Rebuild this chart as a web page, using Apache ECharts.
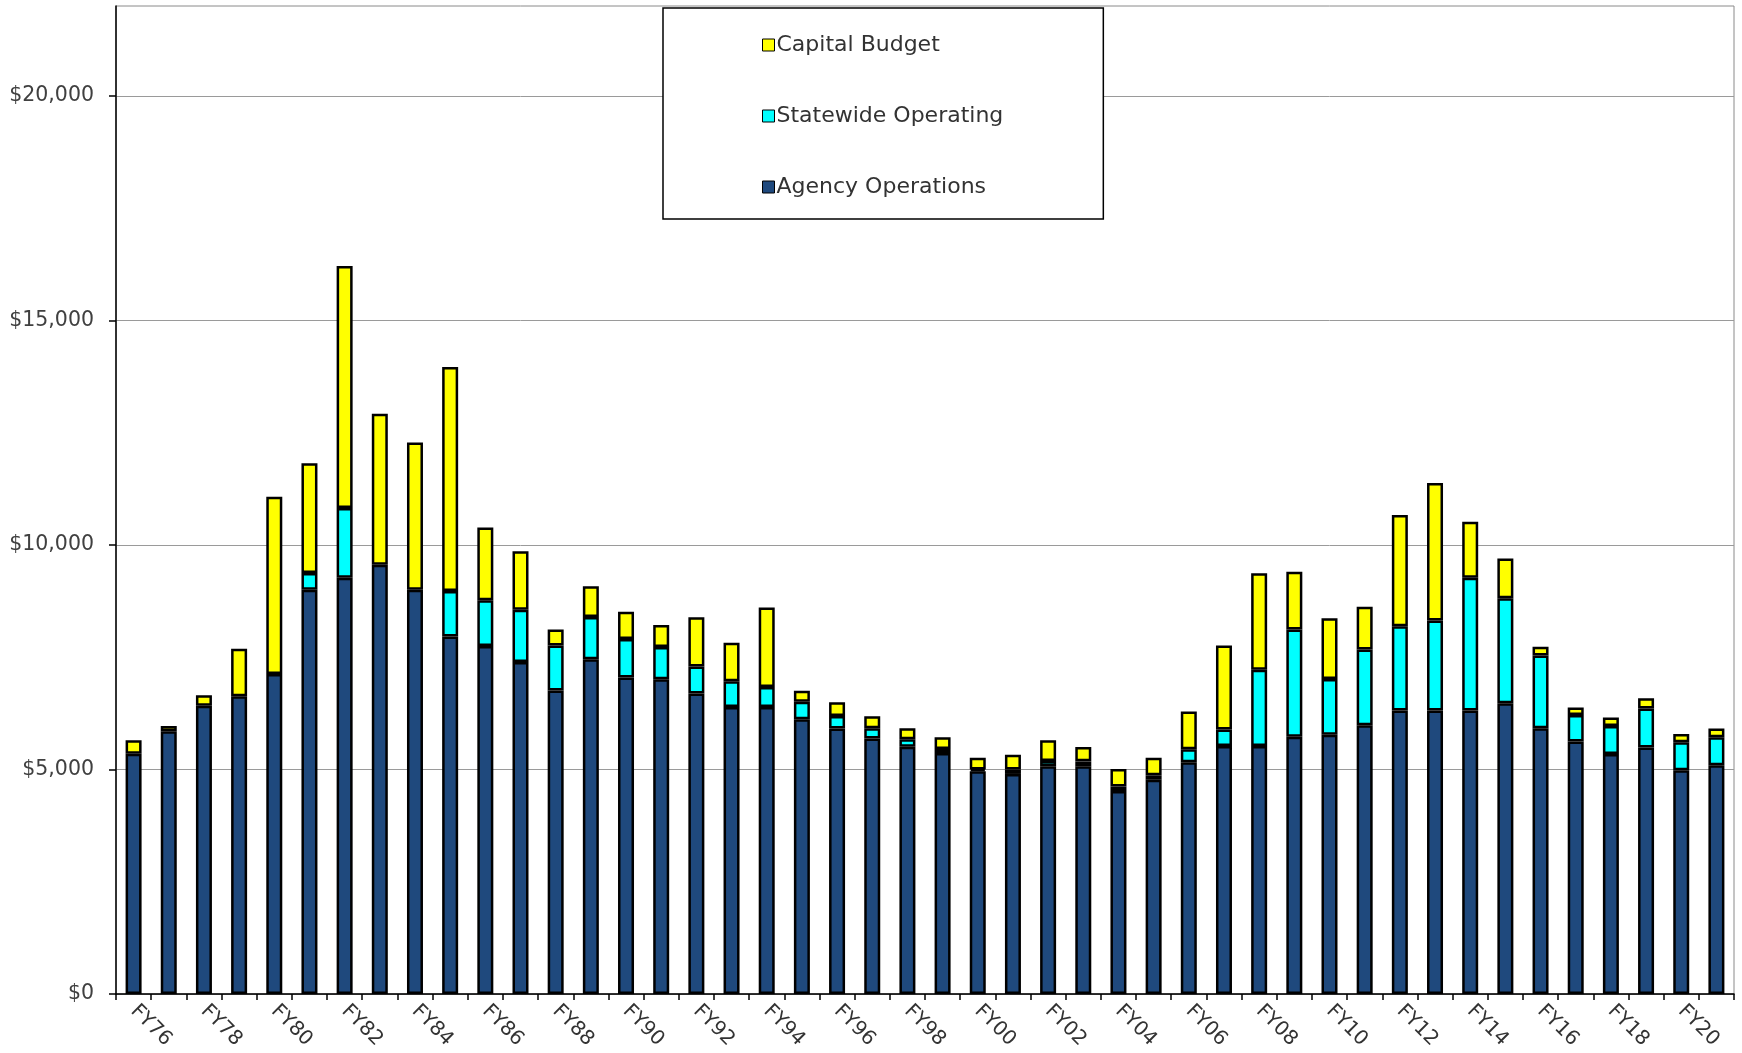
<!DOCTYPE html>
<html>
<head>
<meta charset="utf-8">
<script src="https://cdn.jsdelivr.net/npm/echarts@6/dist/echarts.min.js"></script>
<style>
html,body{margin:0;padding:0;background:#fff;}
#chart{width:1742px;height:1053px;}
</style>
</head>
<body>
<div id="chart"></div>
<script>
const categories = ['FY76','FY77','FY78','FY79','FY80','FY81','FY82','FY83','FY84','FY85','FY86','FY87',
  'FY88','FY89','FY90','FY91','FY92','FY93','FY94','FY95','FY96','FY97','FY98','FY99','FY00',
  'FY01','FY02','FY03','FY04','FY05','FY06','FY07','FY08','FY09','FY10','FY11',
  'FY12','FY13','FY14','FY15','FY16','FY17','FY18','FY19','FY20','FY21'];

const agencyOperations = [5350,5850,6420,6630,7125,9000,9270,9560,9000,7960,7750,7390,
  6760,7455,7050,7010,6690,6390,6390,6120,5910,5690,5505,5365,4960,
  4900,5070,5070,4520,4770,5160,5520,5520,5730,5770,5985,
  6310,6310,6310,6475,5915,5620,5345,5490,4985,5095];

const statewideOperating = [0,0,0,0,0,375,1550,0,0,1015,1015,1165,
  1000,940,855,715,600,575,445,390,280,225,170,90,40,
  100,120,110,100,100,290,370,1700,2385,1245,1685,
  1880,2005,2960,2335,1620,595,625,870,620,620];

const capitalBudget = [300,120,230,1055,3945,2445,5390,3360,3280,4985,1625,1305,
  355,685,605,490,1100,855,1770,240,305,270,245,260,260,
  330,460,320,390,390,840,1870,2150,1290,1350,955,
  2475,3065,1245,885,195,165,185,225,185,195];

const yTicks = [0,5000,10000,15000,20000];

const chart = echarts.init(document.getElementById('chart'), null, {renderer:'canvas'});
const FONT = 'DejaVu Sans';
function barSeries(name, data, color){
  return {
    name: name, type: 'bar', stack: 'total',
    data: data.map(function(v){ return v === 0 ? null : v; }),
    barWidth: 16,
    itemStyle: {color: color, borderColor: '#000', borderWidth: 2.5},
    emphasis: {disabled: true}
  };
}
chart.setOption({
  animation: false,
  backgroundColor: '#fff',
  grid: {left: 116, right: 8, top: 6, bottom: 59, show: true, borderColor: '#8a8a8a', borderWidth: 1, containLabel: false},
  legend: {
    orient: 'vertical', left: 663, top: 8,
    data: ['Capital Budget','Statewide Operating','Agency Operations'],
    icon: 'rect', itemWidth: 12, itemHeight: 12, itemGap: 47,
    padding: [25, 100, 20, 99],
    backgroundColor: '#fff', borderColor: '#000', borderWidth: 1.5,
    itemStyle: {borderColor: '#000', borderWidth: 1},
    textStyle: {fontFamily: FONT, fontSize: 22, color: '#333', lineHeight: 24, padding: [0,0,0,-3]},
    selectedMode: false
  },
  xAxis: {
    type: 'category', data: categories, boundaryGap: true,
    axisLine: {lineStyle: {color: '#000', width: 1.5}},
    axisTick: {show: true, length: 6, interval: 0, lineStyle: {color: '#000', width: 1.5}},
    axisLabel: {interval: 1, rotate: -45, margin: 14, fontFamily: FONT, fontSize: 20, color: '#333'}
  },
  yAxis: {
    type: 'value', min: 0, max: 22000, interval: 5000,
    axisLine: {show: true, lineStyle: {color: '#000', width: 1.5}},
    axisTick: {show: true, length: 7, customValues: yTicks, lineStyle: {color: '#000', width: 1.5}},
    axisLabel: {margin: 22, fontFamily: FONT, fontSize: 20.5, color: '#404040', customValues: yTicks,
      formatter: function(v){ return v % 5000 === 0 ? '$' + v.toLocaleString('en-US') : ''; }},
    splitLine: {show: true, lineStyle: {color: '#9a9a9a', width: 1}}
  },
  series: [
    barSeries('Agency Operations', agencyOperations, '#1F497D'),
    barSeries('Statewide Operating', statewideOperating, '#00FFFF'),
    barSeries('Capital Budget', capitalBudget, '#FFFF00')
  ]
});
</script>
</body>
</html>
